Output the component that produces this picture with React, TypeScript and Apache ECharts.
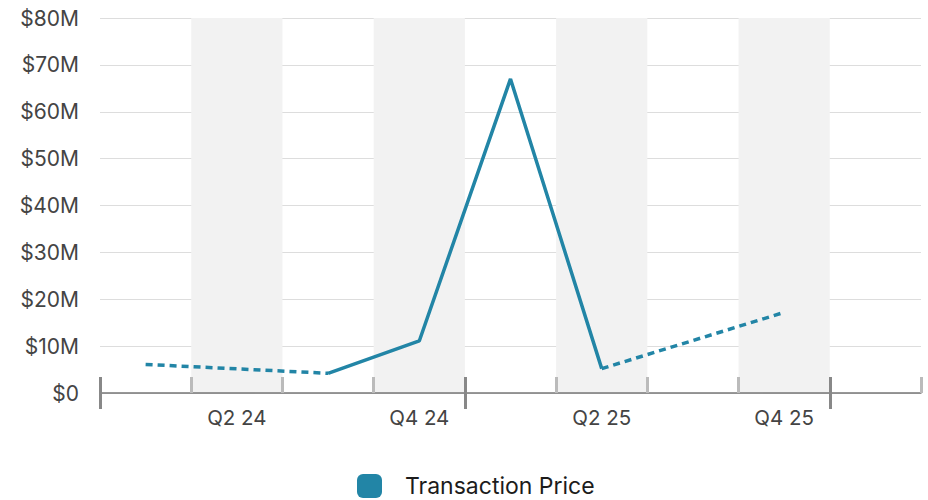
import React, { useEffect, useRef } from "react";
import * as echarts from "echarts";

const quarters = ["Q1 24", "Q2 24", "Q3 24", "Q4 24", "Q1 25", "Q2 25", "Q3 25", "Q4 25", "Q1 26"];
// Transaction price in $M, null where no transaction
const prices: (number | null)[] = [6.1, null, 4.2, 11.1, 67, 5.2, null, 17.2, null];
const yTicks = [0, 10, 20, 30, 40, 50, 60, 70, 80];
const seriesName = "Transaction Price";

const LINE_COLOR = "#2285a6";
const FONT = "Inter";

function gapBridges(values: (number | null)[]): (number | null)[][] {
  const bridges: (number | null)[][] = [];
  let lastIdx = -1;
  for (let i = 0; i < values.length; i++) {
    if (values[i] == null) continue;
    if (lastIdx >= 0 && i - lastIdx > 1) {
      const arr = values.map(() => null as number | null);
      arr[lastIdx] = values[lastIdx];
      arr[i] = values[i];
      bridges.push(arr);
    }
    lastIdx = i;
  }
  return bridges;
}

export default function App() {
  const ref = useRef<HTMLDivElement>(null);
  useEffect(() => {
    if (!ref.current) return;
    const chart = echarts.init(ref.current, undefined, { renderer: "svg" });
    const yearStarts = quarters.map((q, i) => (q.startsWith("Q1") ? i : -1)).filter((i) => i >= 0);
    const bridges = gapBridges(prices);
    chart.setOption({
      animation: false,
      grid: { left: 100, right: 7, top: 18, bottom: 107 },
      legend: {
        data: [seriesName],
        left: 357,
        top: 474,
        padding: 0,
        icon: "roundRect",
        itemWidth: 25,
        itemHeight: 24,
        itemStyle: { color: LINE_COLOR, borderWidth: 0 },
        textStyle: { fontFamily: FONT, fontSize: 23, color: "#1c1c1c", padding: [0, 0, 0, 18] },
      },
      xAxis: [
        {
          type: "category",
          data: quarters,
          boundaryGap: true,
          axisLine: { show: true, lineStyle: { color: "#777", width: 1.5 } },
          axisTick: { show: true, interval: 0, inside: true, length: 16, lineStyle: { color: "#bbb", width: 3 } },
          axisLabel: {
            interval: (i: number) => i % 2 === 1,
            margin: 14,
            fontFamily: FONT,
            fontSize: 20.5,
            color: "#444",
          },
          splitLine: { show: false },
          splitArea: { show: true, interval: 0, areaStyle: { color: ["rgba(0,0,0,0)", "#f2f2f2"] } },
          z: 1,
        },
        {
          type: "value",
          min: 0,
          max: quarters.length,
          position: "bottom",
          offset: 16,
          axisLine: { show: false },
          axisLabel: { show: false },
          splitLine: { show: false },
          axisTick: {
            show: true,
            customValues: yearStarts,
            inside: true,
            length: 32,
            lineStyle: { color: "#888", width: 3 },
          },
          z: 3,
        },
      ],
      yAxis: {
        type: "value",
        min: yTicks[0],
        max: yTicks[yTicks.length - 1],
        interval: yTicks[1] - yTicks[0],
        axisLine: { show: false },
        axisTick: { show: false },
        splitLine: { show: true, lineStyle: { color: "#ddd", width: 1 } },
        axisLabel: {
          margin: 21,
          fontFamily: FONT,
          fontSize: 21,
          color: "#444",
          formatter: (v: number) => (v === 0 ? "$0" : `$${v}M`),
        },
      },
      series: [
        {
          name: seriesName,
          type: "line",
          data: prices,
          xAxisIndex: 0,
          connectNulls: false,
          showSymbol: false,
          symbol: "none",
          lineStyle: { color: LINE_COLOR, width: 3.5 },
          itemStyle: { color: LINE_COLOR },
          z: 5,
        },
        ...bridges.map((b, k) => ({
          name: `${seriesName} gap ${k}`,
          type: "line",
          data: b,
          xAxisIndex: 0,
          connectNulls: true,
          showSymbol: false,
          symbol: "none",
          lineStyle: { color: LINE_COLOR, width: 3.5, type: [7, 5] },
          itemStyle: { color: LINE_COLOR },
          z: 5,
        })),
      ],
    });
    return () => chart.dispose();
  }, []);
  return <div ref={ref} style={{ position: "absolute", left: 0, top: 0, width: 928, height: 500 }} />;
}
